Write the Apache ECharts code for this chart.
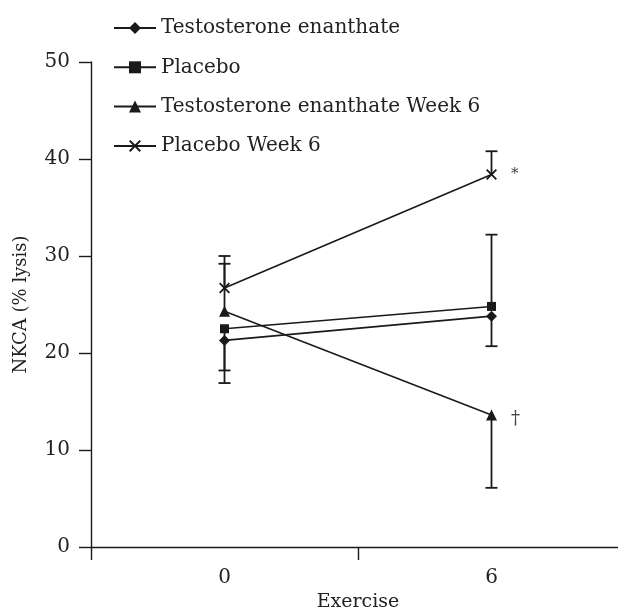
<!DOCTYPE html>
<html>
<head>
<meta charset="utf-8">
<script src="https://cdn.jsdelivr.net/npm/echarts@6/dist/echarts.min.js"></script>
<style>
html,body{margin:0;padding:0;background:#fff;}
#c{width:618px;height:607px;}
</style>
</head>
<body>
<div id="c"></div>
<script>
// Data
var categories = ['0', '6'];
var seriesNames = ['Testosterone enanthate', 'Placebo', 'Testosterone enanthate Week 6', 'Placebo Week 6'];
var teValues = [21.3, 23.8];
var placeboValues = [22.5, 24.8];
var teW6Values = [24.3, 13.6];
var placeboW6Values = [26.7, 38.4];
// error bar end values (drawn from mean to end)
var teErrEnds = [18.2, 20.7];
var placeboErrEnds = [16.9, 32.2];
var teW6ErrEnds = [29.2, 6.1];
var placeboW6ErrEnds = [30.0, 40.8];
var yTicks = [0, 10, 20, 30, 40, 50];
var annotations = { 'Placebo Week 6': '*', 'Testosterone enanthate Week 6': '\u2020' };

var crossPath = 'path://M0,1.2L1.2,0L5,3.8L8.8,0L10,1.2L6.2,5L10,8.8L8.8,10L5,6.2L1.2,10L0,8.8L3.8,5Z';
var symbols = ['diamond', 'rect', 'triangle', crossPath];
var symbolSizes = [11, 9, 11, 11];
var allValues = [teValues, placeboValues, teW6Values, placeboW6Values];
var allErr = [teErrEnds, placeboErrEnds, teW6ErrEnds, placeboW6ErrEnds];

var ink = '#1a1a1a';
var font = 'DejaVu Serif';

var series = [];
// error bars
var errData = [];
allValues.forEach(function (vals, s) {
  vals.forEach(function (v, i) { errData.push([i, v, allErr[s][i]]); });
});
series.push({
  type: 'custom',
  name: 'err',
  silent: true,
  z: 1,
  data: errData,
  renderItem: function (params, api) {
    var c = api.value(0), m = api.value(1), e = api.value(2);
    var p1 = api.coord([c, m]);
    var p2 = api.coord([c, e]);
    var hw = 6;
    var st = { stroke: ink, lineWidth: 1.8 };
    return {
      type: 'group',
      children: [
        { type: 'line', shape: { x1: p1[0], y1: p1[1], x2: p2[0], y2: p2[1] }, style: st },
        { type: 'line', shape: { x1: p2[0] - hw, y1: p2[1], x2: p2[0] + hw, y2: p2[1] }, style: st }
      ]
    };
  }
});

seriesNames.forEach(function (name, s) {
  var ann = annotations[name];
  var data = allValues[s].map(function (v, i) {
    if (ann && i === allValues[s].length - 1) {
      return {
        value: v,
        label: {
          show: true, formatter: ann, position: 'right', distance: 14,
          fontFamily: font, fontSize: ann === '*' ? 15 : 18, color: '#444',
          offset: ann === '*' ? [0, 0] : [0, 4]
        }
      };
    }
    return v;
  });
  series.push({
    type: 'line',
    name: name,
    data: data,
    symbol: symbols[s],
    symbolSize: symbolSizes[s],
    showSymbol: true,
    z: 3,
    lineStyle: { color: ink, width: 1.6 },
    itemStyle: { color: ink },
    emphasis: { disabled: true },
    animation: false
  });
});

var chart = echarts.init(document.getElementById('c'), null, { renderer: 'canvas' });
chart.setOption({
  animation: false,
  backgroundColor: '#fff',
  grid: { left: 91, right: -7, top: 62, bottom: 60, containLabel: false, outerBoundsMode: 'none' },
  legend: {
    orient: 'vertical',
    left: 108,
    top: 13,
    itemWidth: 42,
    itemHeight: 15,
    itemGap: 19.3,
    data: seriesNames,
    textStyle: { fontFamily: font, fontSize: 20, color: '#222', lineHeight: 20, padding: [0, 0, 0, 0] },
    selectedMode: false
  },
  xAxis: {
    type: 'category',
    data: categories,
    boundaryGap: true,
    name: 'Exercise',
    nameLocation: 'middle',
    nameGap: 34,
    nameTextStyle: { fontFamily: font, fontSize: 19, color: '#222' },
    axisLine: { lineStyle: { color: ink, width: 1.4 } },
    axisTick: { show: true, length: 13, alignWithLabel: false, lineStyle: { color: ink, width: 1.4 } },
    axisLabel: { fontFamily: font, fontSize: 20, color: '#222', margin: 21 },
    splitLine: { show: false }
  },
  yAxis: {
    type: 'value',
    min: 0,
    max: 50,
    interval: 10,
    name: 'NKCA (% lysis)',
    nameLocation: 'middle',
    nameGap: 61,
    nameTextStyle: { fontFamily: font, fontSize: 18, color: '#222' },
    axisLine: { show: true, lineStyle: { color: ink, width: 1.4 } },
    axisTick: { show: true, length: 12, lineStyle: { color: ink, width: 1.4 } },
    axisLabel: {
      fontFamily: font, fontSize: 20, color: '#222', margin: 21,
      formatter: function (v) { return yTicks.indexOf(v) >= 0 ? String(v) : ''; }
    },
    splitLine: { show: false }
  },
  series: series
});
</script>
</body>
</html>
